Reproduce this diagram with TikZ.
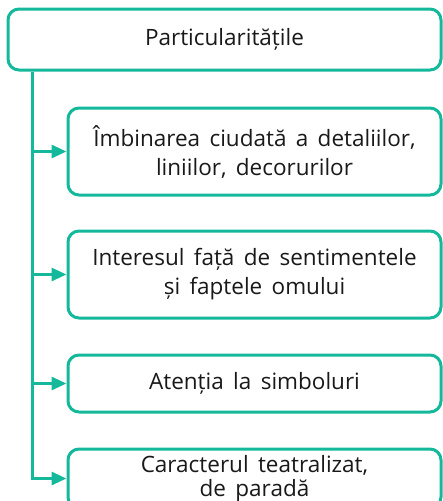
\documentclass[tikz,border=0pt]{standalone}
\usepackage{fontspec}
\setmainfont{Open Sans}[WordSpace=1.6]
\usetikzlibrary{arrows.meta}
\definecolor{tealline}{RGB}{20,184,155}

\begin{document}
\begin{tikzpicture}[x=1pt, y=-1pt,
	box/.style={draw=tealline, line width=3pt, rounded corners=11pt, fill=white,
		text=black!90, align=center, inner sep=0pt,
		font=\fontsize{22.5}{29}\selectfont},
	arr/.style={draw=tealline, line width=3pt, -{Triangle[length=15pt, width=13pt]}}]
	\useasboundingbox (0,0) rectangle (443,501);
	\clip (0,0) rectangle (443,501);
	% boxes
	\node (top) at (224.5, 39.5)	[box, minimum width=433, minimum height=61]	{Particularitățile};
	\node (b1) at (254.5, 151.5)	[box, minimum width=373, minimum height=87]	{Îmbinarea ciudată a detaliilor,\\liniilor, decorurilor};
	\node (b2) at (254.5, 274.5)	[box, minimum width=373, minimum height=87]	{Interesul față de sentimentele\\și faptele omului};
	\node (b3) at (254.5, 383.5)	[box, minimum width=373, minimum height=57]	{Atenția la simboluri};
	\node (b4) at (254.5, 478.5)	[box, minimum width=373, minimum height=59,
		font=\fontsize{22.5}{24}\selectfont]	{Caracterul teatralizat,\\de paradă};
	% spine
	\coordinate (s) at (32, 0);
	\draw[arr] (top.south -| s) |- (b4.west);
	\draw[arr] (b1.west -| s) -- (b1.west);
	\draw[arr] (b2.west -| s) -- (b2.west);
	\draw[arr] (b3.west -| s) -- (b3.west);
\end{tikzpicture}
\end{document}
